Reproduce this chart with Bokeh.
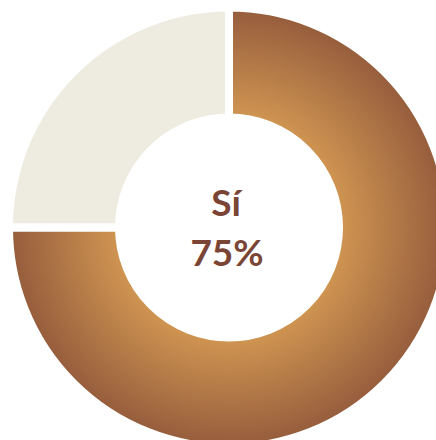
import numpy as np
from bokeh.plotting import figure
from bokeh.models import Range1d, ColumnDataSource
from bokeh.core.properties import value
from bokeh.embed import file_html
from bokeh.resources import INLINE

# ---- data ----
categories = ["Sí", "No"]
values = [75, 25]
center_label = "Sí"
center_value = "75%"

# ---- styling ----
W, H = 436, 440
cx, cy = 228.5, 440 - 227
r_in, r_out, gap = 114, 216, 8
inner_col = np.array([0xCF, 0x94, 0x51])
outer_col = np.array([0x98, 0x5F, 0x3E])
beige = "#EEEBE0"
text_col = "#7B4536"

p = figure(width=W, height=H, output_backend="svg", toolbar_location=None,
           x_range=Range1d(0, W), y_range=Range1d(0, H), min_border=0)
p.axis.visible = False
p.grid.visible = False
p.outline_line_color = None
p.background_fill_color = "white"
p.border_fill_color = "white"

total = float(sum(values))
starts, ends = [], []
a = np.pi / 2
for v in values:
    starts.append(a)
    a = a - v / total * 2 * np.pi
    ends.append(a)

# first slice: radial gradient built from concentric wedges (outer first)
n = 80
radii = np.linspace(r_out + gap / 2, r_in, n)
cols = []
for r in radii:
    t = np.clip((r - r_in) / (r_out - r_in), 0, 1)
    c = inner_col + (outer_col - inner_col) * t
    cols.append("#%02x%02x%02x" % tuple(int(round(x)) for x in c))
grad = ColumnDataSource(dict(x=[cx] * n, y=[cy] * n, r=list(radii), c=cols,
                             s=[starts[0]] * n, e=[ends[0]] * n))
p.annular_wedge(x="x", y="y", inner_radius=r_in - gap / 2, outer_radius="r",
                inner_radius_units="screen", outer_radius_units="screen",
                start_angle="s", end_angle="e", direction="clock",
                fill_color="c", line_color=None, source=grad)

# second slice
p.annular_wedge(x=cx, y=cy, inner_radius=r_in - gap / 2, outer_radius=r_out + gap / 2,
                inner_radius_units="screen", outer_radius_units="screen",
                start_angle=starts[1], end_angle=ends[1], direction="clock",
                fill_color=beige, line_color=None)

# white separators (slice borders)
src = ColumnDataSource(dict(x=[cx] * len(values), y=[cy] * len(values), s=starts, e=ends))
p.annular_wedge(x="x", y="y", inner_radius=r_in - gap / 2, outer_radius=r_out + gap / 2,
                inner_radius_units="screen", outer_radius_units="screen",
                start_angle="s", end_angle="e", direction="clock",
                fill_alpha=0, line_color="white", line_width=gap, source=src)

# centre labels
p.text(x=[cx - 3], y=[cy + 26], text=[center_label], text_align="center",
       text_baseline="alphabetic", text_font=value("Lato"), text_font_style="bold",
       text_font_size="37px", text_color=text_col)
p.text(x=[cx - 2], y=[cy - 24], text=[center_value], text_align="center",
       text_baseline="alphabetic", text_font=value("Lato"), text_font_style="bold",
       text_font_size="37px", text_color=text_col)

open("out.html", "w").write(file_html(p, INLINE))
